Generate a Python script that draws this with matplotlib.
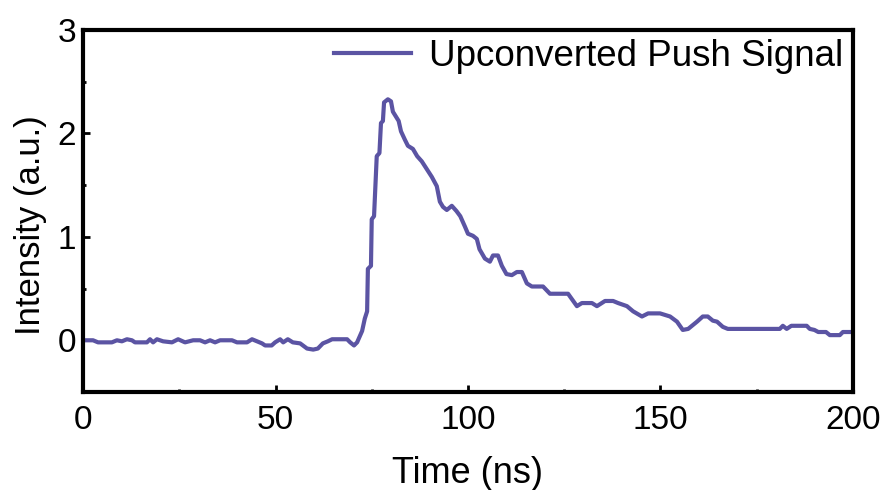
import numpy as np
import matplotlib
matplotlib.use('Agg')
import matplotlib.pyplot as plt
from matplotlib.ticker import MultipleLocator

plt.rcParams['font.family'] = ['Liberation Sans', 'DejaVu Sans']

# Signal trace (time in ns, intensity in a.u.)
time_ns = [0, 2.6, 3.9, 7.5, 8.8, 10.1, 11.4, 12.7, 13.5, 16.6, 17.4, 18.2, 19.2, 20.8,
           23.1, 24.7, 26.5, 28.6, 30.4, 31.7, 33.0, 34.3, 35.6, 38.7, 40.0, 42.6, 43.9,
           45.2, 46.5, 47.3, 49.0, 49.9, 51.2, 52.0, 53.2, 54.5, 56.4, 58.2, 59.8, 61.0,
           62.3, 63.6, 64.7, 68.6, 69.4, 70.4, 71.2, 72.5, 73.2, 73.8, 74.0, 74.8, 75.0,
           75.6, 76.3, 77.0, 77.4, 77.9, 78.2, 79.2, 80.0, 80.5, 81.0, 82.0, 82.6, 83.6,
           84.4, 85.7, 86.8, 88.0, 89.4, 90.6, 91.9, 92.7, 93.5, 94.5, 95.8, 97.0, 98.0,
           99.2, 100.0, 101.3, 102.3, 103.0, 104.4, 105.7, 106.5, 107.8, 108.8, 110.0,
           111.4, 112.7, 114.0, 115.3, 116.6, 119.5, 121.3, 126.0, 128.3, 129.6, 132.2,
           133.5, 135.6, 137.7, 139.0, 141.3, 142.9, 145.2, 146.8, 149.9, 152.5, 154.3,
           155.8, 157.2, 159.5, 161.0, 162.3, 163.6, 164.7, 166.2, 167.5, 181.0, 181.8,
           182.8, 184.0, 188.0, 188.8, 190.0, 191.0, 193.0, 194.0, 196.6, 197.4, 200.0]
intensity = [0.0, 0.0, -0.02, -0.02, 0.0, -0.01, 0.01, 0.0, -0.02, -0.02, 0.01, -0.02, 0.01,
             -0.01, -0.02, 0.01, -0.02, 0.0, 0.0, -0.02, 0.0, -0.02, 0.0, 0.0, -0.02, -0.02,
             0.01, -0.01, -0.03, -0.05, -0.05, -0.02, 0.01, -0.02, 0.01, -0.02, -0.03, -0.08,
             -0.09, -0.08, -0.03, -0.01, 0.01, 0.01, -0.02, -0.05, -0.02, 0.09, 0.21, 0.28,
             0.69, 0.72, 1.17, 1.20, 1.78, 1.81, 2.10, 2.12, 2.30, 2.33, 2.31, 2.21, 2.18,
             2.12, 2.02, 1.94, 1.88, 1.85, 1.78, 1.73, 1.65, 1.58, 1.49, 1.34, 1.29, 1.26,
             1.30, 1.25, 1.20, 1.10, 1.03, 1.01, 0.98, 0.88, 0.79, 0.76, 0.82, 0.82, 0.72,
             0.64, 0.63, 0.66, 0.66, 0.55, 0.52, 0.52, 0.45, 0.45, 0.33, 0.36, 0.36, 0.33,
             0.38, 0.38, 0.36, 0.33, 0.28, 0.23, 0.26, 0.26, 0.23, 0.18, 0.10, 0.11, 0.18,
             0.23, 0.23, 0.19, 0.18, 0.13, 0.11, 0.11, 0.14, 0.11, 0.14, 0.14, 0.11, 0.10,
             0.08, 0.08, 0.05, 0.05, 0.08, 0.08]

fig = plt.figure(figsize=(8.89, 4.90), dpi=100)
ax = fig.add_axes([0.0934, 0.2, 0.866, 0.7388])

ax.plot(time_ns, intensity, color='#5b54a3', lw=3, label='Upconverted Push Signal')

ax.set_xlim(0, 200)
ax.set_ylim(-0.5, 3)
ax.xaxis.set_major_locator(MultipleLocator(50))
ax.xaxis.set_minor_locator(MultipleLocator(25))
ax.yaxis.set_major_locator(MultipleLocator(1))
ax.yaxis.set_minor_locator(MultipleLocator(0.5))
ax.tick_params(which='both', direction='in', width=2, labelsize=24)
ax.tick_params(which='major', length=5)
ax.tick_params(which='minor', length=2.5)
ax.tick_params(axis='x', which='major', pad=9)
ax.tick_params(axis='y', which='major', pad=5)

for s in ax.spines.values():
    s.set_linewidth(3)

ax.set_xlabel('Time (ns)', fontsize=26, labelpad=15)
ax.set_ylabel('Intensity (a.u.)', fontsize=25, labelpad=7.5)
ax.yaxis.label.set_y(0.46)

ax.legend(loc='upper right', frameon=False, fontsize=26.5, handlelength=2.1,
          borderaxespad=0.1, borderpad=0.15, handletextpad=0.5)

fig.savefig('out.png', dpi=100)
